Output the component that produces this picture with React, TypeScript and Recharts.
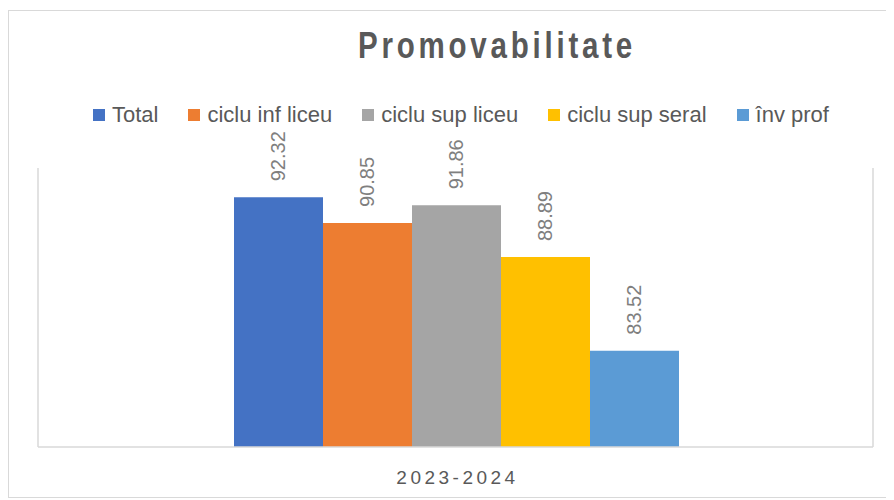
import React from 'react';
import { BarChart, Bar, XAxis, YAxis, CartesianGrid, LabelList } from 'recharts';

// Values
const years = ['2023-2024'];
const seriesNames = ['Total', 'ciclu inf liceu', 'ciclu sup liceu', 'ciclu sup seral', 'înv prof'];
const seriesValues = [92.32, 90.85, 91.86, 88.89, 83.52];
const seriesColors = ['#4472C4', '#ED7D31', '#A5A5A5', '#FFC000', '#5B9BD5'];
const yDomain = [78, 94];

const data = years.map((year) => {
  const row: Record<string, string | number> = { year };
  seriesNames.forEach((name, i) => {
    row[`s${i}`] = seriesValues[i];
  });
  return row;
});

const FONT = '"Liberation Sans", Arial, sans-serif';

const VerticalLabel = (props: any) => {
  const { x, y, width, value } = props;
  const cx = x + width / 2;
  const ty = y - 16;
  return (
    <text
      x={cx}
      y={ty}
      transform={`rotate(-90, ${cx}, ${ty})`}
      textAnchor="start"
      dominantBaseline="central"
      fill="#7f7f7f"
      fontSize={20}
      fontFamily={FONT}
    >
      {value}
    </text>
  );
};

const YearTick = (props: any) => {
  const { x, y, payload } = props;
  return (
    <text
      x={x + 2}
      y={y + 29}
      textAnchor="middle"
      fill="#595959"
      fontSize={19}
      fontFamily={FONT}
      letterSpacing={3.5}
    >
      {payload.value}
    </text>
  );
};

export default function App() {
  return (
    <div
      style={{
        position: 'relative',
        width: 882,
        height: 488,
        marginTop: 2,
        border: '1px solid #d9d9d9',
        boxSizing: 'border-box',
        background: '#fff',
      }}
    >
      {/* condensed bold title, like the Excel original */}
      <div
        style={{
          position: 'absolute',
          left: 349,
          top: 17,
          fontFamily: FONT,
          fontSize: 36,
          lineHeight: 1,
          fontWeight: 'bold',
          letterSpacing: 4.6,
          color: '#595959',
          whiteSpace: 'nowrap',
          transform: 'scaleX(0.82)',
          transformOrigin: 'left top',
        }}
      >
        Promovabilitate
      </div>

      <div
        style={{
          position: 'absolute',
          left: 84,
          top: 92,
          height: 24,
          display: 'flex',
          alignItems: 'center',
          gap: 30,
          fontFamily: FONT,
          fontSize: 22,
          color: '#595959',
          whiteSpace: 'nowrap',
        }}
      >
        {seriesNames.map((name, i) => (
          <div key={name} style={{ display: 'flex', alignItems: 'center', gap: 7 }}>
            <span style={{ width: 12, height: 12, background: seriesColors[i], display: 'inline-block' }} />
            <span>{name}</span>
          </div>
        ))}
      </div>

      <div style={{ position: 'absolute', left: 0, top: 0 }}>
        <BarChart
          width={880}
          height={486}
          data={data}
          margin={{ top: 157, right: 16, bottom: 20, left: 29 }}
          barCategoryGap={196}
          barGap={0}
        >
          <CartesianGrid
            horizontal={false}
            stroke="#d9d9d9"
            strokeWidth={1.5}
            verticalCoordinatesGenerator={({ offset }: any) => [offset.left, offset.left + offset.width]}
          />
          <XAxis
            dataKey="year"
            axisLine={{ stroke: '#d9d9d9', strokeWidth: 1.5 }}
            tickLine={false}
            tick={<YearTick />}
            height={30}
          />
          <YAxis hide domain={yDomain} allowDataOverflow />
          {seriesNames.map((name, i) => (
            <Bar key={name} dataKey={`s${i}`} name={name} fill={seriesColors[i]} isAnimationActive={false}>
              <LabelList dataKey={`s${i}`} content={<VerticalLabel />} />
            </Bar>
          ))}
        </BarChart>
      </div>
    </div>
  );
}
